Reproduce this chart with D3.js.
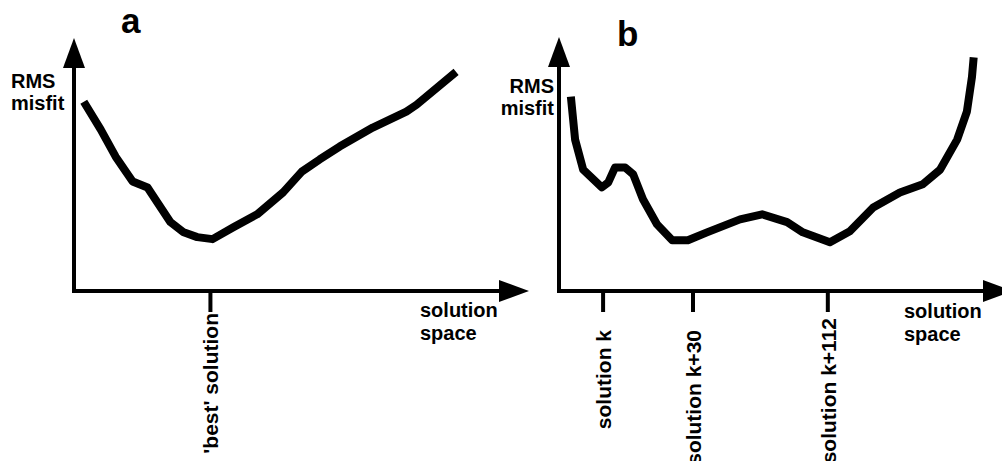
<!DOCTYPE html>
<html><head><meta charset="utf-8">
<script src="https://cdn.jsdelivr.net/npm/d3@7"></script>
<style>
html,body{margin:0;padding:0;background:#fff;}
text{font-family:"Liberation Sans",Arial,sans-serif;font-weight:bold;fill:#000;}
</style></head>
<body>
<svg id="chart" width="1002" height="461"></svg>
<script>
// ---- Data (x: position in solution space 0-100, y: RMS misfit 0-100) ----
const panelLabels = ["a", "b"];
const yAxisLabel = ["RMS", "misfit"];
const xAxisLabel = ["solution", "space"];

const curveAX = [2.3, 6.3, 9.8, 13.8, 17.3, 19.9, 22.7, 25.8, 29.0, 32.6, 37.5, 43.1, 49.2, 53.6, 57.8, 62.5, 70.3, 78.2, 80.6, 89.9];
const curveAY = [74.8, 63.8, 53.1, 43.3, 40.9, 34.3, 27.2, 23.2, 21.3, 20.5, 25.2, 30.3, 39.0, 47.2, 52.0, 57.1, 64.6, 70.9, 73.6, 86.6];

const curveBX = [2.8, 3.8, 5.7, 10.1, 11.6, 13.2, 15.6, 17.5, 19.8, 23.1, 26.7, 30.4, 34.9, 42.7, 47.9, 53.8, 57.5, 63.9, 68.6, 74.1, 80.4, 85.8, 89.9, 93.9, 96.2, 97.4, 97.8];
const curveBY = [76.5, 59.6, 47.8, 40.8, 42.7, 48.6, 48.6, 45.9, 36.1, 26.3, 20.0, 20.0, 23.1, 28.2, 30.2, 27.1, 23.1, 19.2, 23.5, 32.9, 38.8, 42.0, 47.8, 59.6, 70.6, 84.3, 92.0];

const ticksA = [32.1];
const tickLabelsA = ["'best' solution"];
const ticksB = [10.4, 31.6, 63.4];
const tickLabelsB = ["solution k", "solution k+30", "solution k+112"];

// ---- Layout ----
const svg = d3.select("#chart");
const FS = 20;
const FS_ROT = 21;

const panels = [
  {label: panelLabels[0], lx: 121, ly: 33, xr: [74, 499], yr: [291, 38], xs: curveAX, ys: curveAY,
   ticks: ticksA, tickLabels: tickLabelsA, tickTop: [313],
   ylx: 11, yly: 88, ylAnchor: "start", xlx: 420, xly: 317},
  {label: panelLabels[1], lx: 617, ly: 46, xr: [559, 983], yr: [291, 37], xs: curveBX, ys: curveBY,
   ticks: ticksB, tickLabels: tickLabelsB, tickTop: [330, 330, 318],
   ylx: 554, yly: 93, ylAnchor: "end", xlx: 904, xly: 318}
];

panels.forEach(p => {
  const x = d3.scaleLinear().domain([0, 100]).range(p.xr);
  const y = d3.scaleLinear().domain([0, 100]).range(p.yr);
  const g = svg.append("g");
  const x0 = x(0), y0 = y(0);

  // axes
  g.append("line").attr("x1", x0).attr("x2", x(100)).attr("y1", y0).attr("y2", y0)
    .attr("stroke", "#000").attr("stroke-width", 4);
  g.append("line").attr("x1", x0).attr("x2", x0).attr("y1", y0 + 2).attr("y2", y(100) + 20)
    .attr("stroke", "#000").attr("stroke-width", 4);
  // arrowheads
  const yt = y(100);
  g.append("path").attr("d", `M${x0},${yt} L${x0 - 11},${yt + 30} L${x0 + 11},${yt + 30} Z`).attr("fill", "#000");
  const xt = x(100);
  g.append("path").attr("d", `M${xt + 30},${y0} L${xt},${y0 - 11} L${xt},${y0 + 11} Z`).attr("fill", "#000");

  // ticks
  g.selectAll(".tk").data(p.ticks).enter().append("line")
    .attr("x1", d => x(d)).attr("x2", d => x(d)).attr("y1", y0).attr("y2", y0 + 21)
    .attr("stroke", "#000").attr("stroke-width", 4);
  g.selectAll(".tl").data(p.ticks).enter().append("text")
    .attr("transform", (d, i) => `translate(${x(d) + 8},${p.tickTop[i]}) rotate(-90)`)
    .attr("text-anchor", "end").attr("font-size", FS_ROT)
    .text((d, i) => p.tickLabels[i]);

  // curve
  const pts = p.xs.map((v, i) => [v, p.ys[i]]);
  g.append("path").datum(pts)
    .attr("d", d3.line().x(d => x(d[0])).y(d => y(d[1])))
    .attr("fill", "none").attr("stroke", "#000").attr("stroke-width", 8)
    .attr("stroke-linejoin", "round");

  // labels
  g.append("text").attr("x", p.lx).attr("y", p.ly).attr("font-size", 35).text(p.label);
  yAxisLabel.forEach((t, i) => {
    g.append("text").attr("x", p.ylx).attr("y", p.yly + i * 22).attr("text-anchor", p.ylAnchor)
      .attr("font-size", FS).text(t);
  });
  xAxisLabel.forEach((t, i) => {
    g.append("text").attr("x", p.xlx).attr("y", p.xly + i * 23).attr("font-size", FS).text(t);
  });
});
</script>
</body></html>
